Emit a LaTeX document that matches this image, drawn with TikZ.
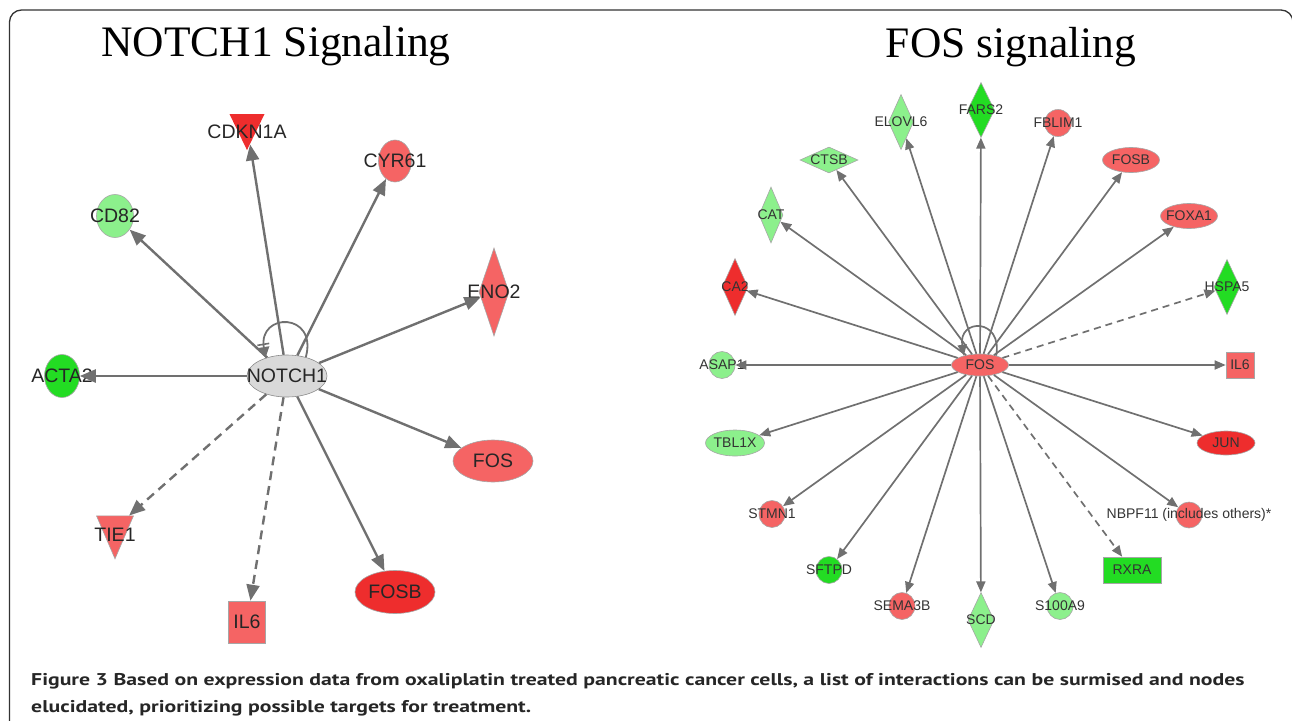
\documentclass[tikz,border=0pt]{standalone}
\usepackage{fontspec}
\usepackage{tikz}
\usetikzlibrary{shapes,arrows.meta,positioning}
\setmainfont{Liberation Serif}
\newfontfamily\genefont{Liberation Sans}
\newfontfamily\capfont{PT Sans}

\definecolor{redlite}{RGB}{245,100,100}
\definecolor{reddark}{RGB}{238,45,45}
\definecolor{grnlite}{RGB}{140,240,140}
\definecolor{grndark}{RGB}{35,220,35}
\definecolor{notchgray}{RGB}{217,217,217}
\definecolor{edgegray}{RGB}{112,112,112}

\begin{document}
\begin{tikzpicture}[
    x=1pt, y=-1pt,
    gene/.style={draw=black!35, line width=0.6pt, inner sep=0pt},
    oval/.style={gene, ellipse},
    dia/.style={gene, diamond},
    tri/.style={gene, isosceles triangle, isosceles triangle stretches, shape border rotate=-90},
    sq/.style={gene, rectangle},
    biglab/.style={font=\genefont\fontsize{19.5}{20}\selectfont, text=black!85},
    smlab/.style={font=\genefont\fontsize{14}{14}\selectfont, text=black!80},
    bigedge/.style={draw=edgegray, line width=2.4pt, -{Triangle[length=16pt,width=13pt]}},
    smedge/.style={draw=edgegray, line width=1.7pt, -{Triangle[length=11pt,width=9pt]}},
    title/.style={font=\fontsize{43.5}{44}\selectfont, anchor=base},
    capt/.style={font=\capfont\bfseries\fontsize{17}{17}\selectfont, text=black!85, anchor=base west, inner sep=0pt}
]
\useasboundingbox (0,0) rectangle (1292,720);

% Frame
\draw[line width=1.3pt, black!80, rounded corners=12pt] (9.5,740) |- (1293,10) -- (1293,740);

% Titles
\node[title] (ttlnotch) at (276,56) {NOTCH1 Signaling};
\node[title] (ttlfos) at (1011,57) {FOS signaling};

% NOTCH1 network
\node[oval, fill=notchgray, draw=black!45, minimum width=80, minimum height=42, label={[biglab]center:NOTCH1}] (notch) at (287,376) {};
\node[tri, fill=reddark, draw=none, minimum width=35, minimum height=36, label={[biglab, yshift=-7pt]center:CDKN1A}] (cdkn) at (247,125) {};
\node[oval, fill=redlite, minimum width=33, minimum height=42, label={[biglab]center:CYR61}] (cyr) at (395,161) {};
\node[oval, fill=grnlite, minimum width=37, minimum height=43, label={[biglab]center:CD82}] (cd82) at (115,216) {};
\node[dia, fill=redlite, minimum width=30, minimum height=88, label={[biglab]center:ENO2}] (eno) at (494,292) {};
\node[oval, fill=grndark, minimum width=35, minimum height=43, label={[biglab]center:ACTA2}] (acta) at (62,376) {};
\node[oval, fill=redlite, minimum width=80, minimum height=42, label={[biglab]center:FOS}] (fosL) at (493,461) {};
\node[oval, fill=reddark, minimum width=80, minimum height=43, label={[biglab]center:FOSB}] (fosbL) at (395,592) {};
\node[sq, fill=redlite, minimum width=37, minimum height=42, label={[biglab]center:IL6}] (ilL) at (247,622) {};
\node[tri, fill=redlite, minimum width=37, minimum height=43, label={[biglab, yshift=-7pt]center:TIE1}] (tie) at (115,528) {};

\draw[bigedge] (notch) -- (cdkn);
\draw[bigedge] (notch) -- (cyr);
\draw[bigedge] (notch) -- (cd82);
\draw[bigedge] (notch) -- (eno);
\draw[bigedge] (notch) -- (acta);
\draw[bigedge] (notch) -- (fosL);
\draw[bigedge] (notch) -- (fosbL);
\draw[bigedge, dashed, dash pattern=on 9pt off 6pt] (notch) -- (ilL);
\draw[bigedge, dashed, dash pattern=on 9pt off 6pt] (notch) -- (tie);
\draw[draw=edgegray, line width=1.8pt, -{Bar[width=12pt,line width=1.6pt,sep=2pt] Triangle[length=11pt,width=11pt]}] (notch.45) .. controls (318,312) and (258,312) .. (notch.140);

% FOS network
\node[oval, fill=redlite, minimum width=57, minimum height=22, label={[smlab]center:FOS}] (fos) at (980,365) {};
\node[dia, fill=grnlite, minimum width=25, minimum height=55, label={[smlab]center:ELOVL6}] (elovl) at (901,122) {};
\node[dia, fill=grndark, minimum width=27, minimum height=55, label={[smlab]center:FARS2}] (fars) at (981,110) {};
\node[oval, fill=redlite, minimum width=27, minimum height=27, label={[smlab]center:FBLIM1}] (fblim) at (1058,123) {};
\node[oval, fill=redlite, minimum width=57, minimum height=25, label={[smlab]center:FOSB}] (fosb) at (1131,160) {};
\node[oval, fill=redlite, minimum width=57, minimum height=25, label={[smlab]center:FOXA1}] (foxa) at (1189,216) {};
\node[dia, fill=grndark, minimum width=26, minimum height=55, label={[smlab]center:HSPA5}] (hspa) at (1227,287) {};
\node[sq, fill=redlite, minimum width=28, minimum height=26, label={[smlab]center:IL6}] (il) at (1240,365) {};
\node[oval, fill=reddark, minimum width=58, minimum height=24, label={[smlab]center:JUN}] (jun) at (1226,443) {};
\node[oval, fill=redlite, minimum width=26, minimum height=26, label={[smlab]center:NBPF11 (includes others)*}] (nbpf) at (1189,515) {};
\node[sq, fill=grndark, minimum width=58, minimum height=26, label={[smlab]center:RXRA}] (rxra) at (1132,570) {};
\node[oval, fill=grnlite, minimum width=26, minimum height=27, label={[smlab]center:S100A9}] (sapp) at (1060,606) {};
\node[dia, fill=grnlite, minimum width=26, minimum height=55, label={[smlab]center:SCD}] (scd) at (981,620) {};
\node[oval, fill=redlite, minimum width=26, minimum height=27, label={[smlab]center:SEMA3B}] (sema) at (902,606) {};
\node[oval, fill=grndark, minimum width=26, minimum height=27, label={[smlab]center:SFTPD}] (sftpd) at (829,570) {};
\node[oval, fill=redlite, minimum width=26, minimum height=27, label={[smlab]center:STMN1}] (stmn) at (772,514) {};
\node[oval, fill=grnlite, minimum width=59, minimum height=26, label={[smlab]center:TBL1X}] (tbl) at (735,443) {};
\node[oval, fill=grnlite, minimum width=26, minimum height=27, label={[smlab]center:ASAP1}] (asap) at (722,365) {};
\node[dia, fill=reddark, minimum width=26, minimum height=57, label={[smlab]center:CA2}] (ca) at (735,287) {};
\node[dia, fill=grnlite, minimum width=24, minimum height=56, label={[smlab]center:CAT}] (cat) at (771,215) {};
\node[dia, fill=grnlite, minimum width=58, minimum height=26, label={[smlab]center:CTSB}] (ctsb) at (829,160) {};

\foreach \tgt in {elovl,fars,fblim,fosb,foxa,il,jun,nbpf,sapp,scd,sema,sftpd,stmn,tbl,asap,ca,cat,ctsb}
  \draw[smedge] (fos) -- (\tgt);
\draw[smedge, dashed, dash pattern=on 7pt off 5pt] (fos) -- (hspa);
\draw[smedge, dashed, dash pattern=on 7pt off 5pt] (fos) -- (rxra);
\draw[smedge] (fos.30) .. controls (1003,318) and (958,318) .. (fos.150);

% Caption
\node[capt] (cap1) at (31,685) {\scalebox{1.28}[1]{Figure 3 Based on expression data from oxaliplatin treated pancreatic cancer cells, a list of interactions can be surmised and nodes}};
\node[capt] (cap2) at (31,712) {\scalebox{1.28}[1]{elucidated, prioritizing possible targets for treatment.}};

\end{tikzpicture}
\end{document}
